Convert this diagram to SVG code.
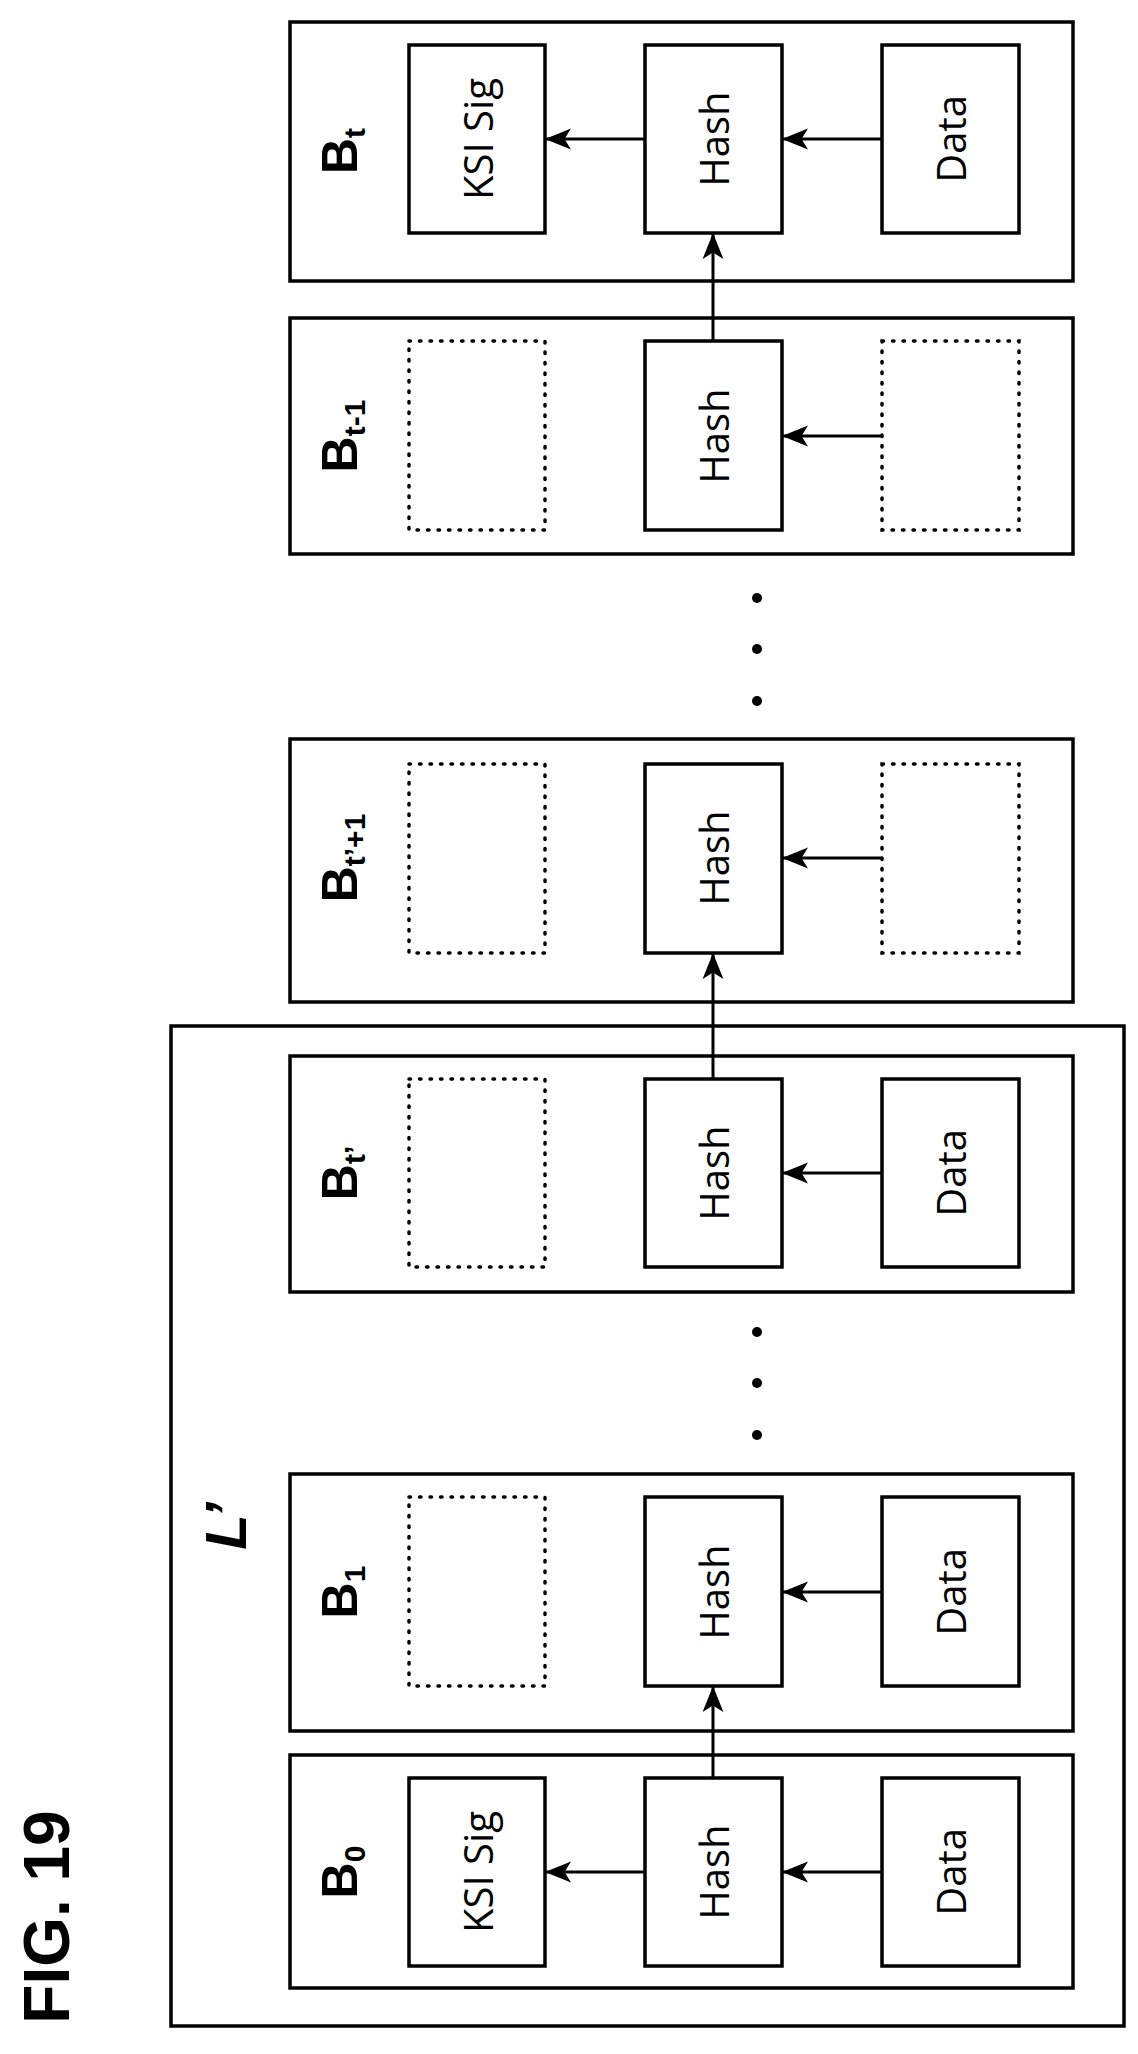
<svg xmlns="http://www.w3.org/2000/svg" width="1138" height="2054" viewBox="0 0 1138 2054">
<defs>
<marker id="ah" viewBox="0 0 10 10" refX="10" refY="5" markerWidth="8" markerHeight="8" markerUnits="userSpaceOnUse" orient="auto"><path d="M0,0 L10,5 L0,10 Z" fill="#000"/></marker>
<marker id="a" viewBox="0 0 20 20" refX="20" refY="10" markerWidth="26" markerHeight="26" markerUnits="userSpaceOnUse" orient="auto"><path d="M0,2 L20,10 L0,18 L5,10 Z" fill="#000"/></marker>
<style>
.blk{fill:#fff;stroke:#000;stroke-width:3.5}
.box{fill:#fff;stroke:#000;stroke-width:3.5}
.dot{fill:none;stroke:#000;stroke-width:3.5;stroke-dasharray:1.5 9;stroke-linecap:round}
.t{font-family:"Open Sans","DejaVu Sans",sans-serif;font-size:40px;text-anchor:middle;dominant-baseline:central}
.b{font-family:"Liberation Sans",Arial,sans-serif;font-weight:bold;font-size:50px}
.s{font-size:30px}
.c{stroke:#000;stroke-width:3;fill:none;marker-end:url(#a)}
</style>
</defs>
<rect x="171" y="1026" width="953" height="1000" fill="none" stroke="#000" stroke-width="3.5"/>
<text x="0" y="0" transform="translate(69,1917) rotate(-90)" font-family="Liberation Sans,Arial,sans-serif" font-weight="bold" font-size="64" text-anchor="middle">FIG. 19</text>
<text x="0" y="0" transform="translate(246,1526) rotate(-90)" font-family="Liberation Sans,Arial,sans-serif" font-weight="bold" font-style="italic" font-size="58" text-anchor="middle">L’</text>

<g id="Bt">
<rect class="blk" x="290" y="22" width="783" height="259"/>
<text class="b" transform="translate(357,151) rotate(-90)" text-anchor="middle">B<tspan class="s" dy="8">t</tspan></text>
<rect class="box" x="409" y="45" width="136" height="188"/><text class="t" transform="translate(477,139) rotate(-90)">KSI Sig</text>
<rect class="box" x="645" y="45" width="137" height="188"/><text class="t" transform="translate(713,139) rotate(-90)">Hash</text>
<rect class="box" x="882" y="45" width="137" height="188"/><text class="t" transform="translate(950,139) rotate(-90)">Data</text>
</g>
<g id="Bt-1">
<rect class="blk" x="290" y="318" width="783" height="236"/>
<text class="b" transform="translate(357,436) rotate(-90)" text-anchor="middle">B<tspan class="s" dy="8">t-1</tspan></text>
<rect class="dot" x="409" y="341" width="136" height="189"/>
<rect class="box" x="645" y="341" width="137" height="189"/><text class="t" transform="translate(713,436) rotate(-90)">Hash</text>
<rect class="dot" x="882" y="341" width="137" height="189"/>
</g>
<g id="dots1" fill="#000"><circle cx="757" cy="598" r="5"/><circle cx="757" cy="649" r="5"/><circle cx="757" cy="701" r="5"/></g>
<g id="Bt1p">
<rect class="blk" x="290" y="739" width="783" height="263"/>
<text class="b" transform="translate(357,858) rotate(-90)" text-anchor="middle">B<tspan class="s" dy="8">t’+1</tspan></text>
<rect class="dot" x="409" y="764" width="136" height="189"/>
<rect class="box" x="645" y="764" width="137" height="189"/><text class="t" transform="translate(713,858) rotate(-90)">Hash</text>
<rect class="dot" x="882" y="764" width="137" height="189"/>
</g>
<g id="Btp">
<rect class="blk" x="290" y="1056" width="783" height="236"/>
<text class="b" transform="translate(357,1173) rotate(-90)" text-anchor="middle">B<tspan class="s" dy="8">t’</tspan></text>
<rect class="dot" x="409" y="1079" width="136" height="188"/>
<rect class="box" x="645" y="1079" width="137" height="188"/><text class="t" transform="translate(713,1173) rotate(-90)">Hash</text>
<rect class="box" x="882" y="1079" width="137" height="188"/><text class="t" transform="translate(950,1173) rotate(-90)">Data</text>
</g>
<g id="dots2" fill="#000"><circle cx="757" cy="1332" r="5"/><circle cx="757" cy="1383" r="5"/><circle cx="757" cy="1435" r="5"/></g>
<g id="B1">
<rect class="blk" x="290" y="1474" width="783" height="257"/>
<text class="b" transform="translate(357,1592) rotate(-90)" text-anchor="middle">B<tspan class="s" dy="8">1</tspan></text>
<rect class="dot" x="409" y="1497" width="136" height="189"/>
<rect class="box" x="645" y="1497" width="137" height="189"/><text class="t" transform="translate(713,1592) rotate(-90)">Hash</text>
<rect class="box" x="882" y="1497" width="137" height="189"/><text class="t" transform="translate(950,1592) rotate(-90)">Data</text>
</g>
<g id="B0">
<rect class="blk" x="290" y="1755" width="783" height="233"/>
<text class="b" transform="translate(357,1872) rotate(-90)" text-anchor="middle">B<tspan class="s" dy="8">0</tspan></text>
<rect class="box" x="409" y="1778" width="136" height="188"/><text class="t" transform="translate(477,1872) rotate(-90)">KSI Sig</text>
<rect class="box" x="645" y="1778" width="137" height="188"/><text class="t" transform="translate(713,1872) rotate(-90)">Hash</text>
<rect class="box" x="882" y="1778" width="137" height="188"/><text class="t" transform="translate(950,1872) rotate(-90)">Data</text>
</g>
<g id="connectors">
<path class="c" d="M645,139 H545"/><path class="c" d="M882,139 H782"/>
<path class="c" d="M713,341 V233"/>
<path class="c" d="M882,436 H782"/>
<path class="c" d="M882,858 H782"/>
<path class="c" d="M713,1079 V953"/>
<path class="c" d="M882,1173 H782"/>
<path class="c" d="M713,1778 V1686"/>
<path class="c" d="M882,1592 H782"/>
<path class="c" d="M645,1872 H545"/><path class="c" d="M882,1872 H782"/>
</g>
</svg>
